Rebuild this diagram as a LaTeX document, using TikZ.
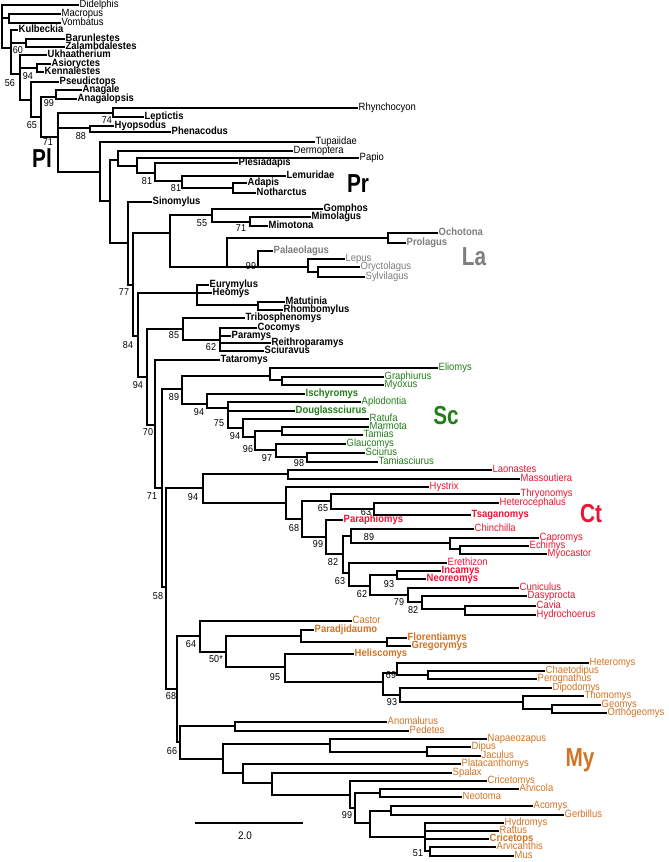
\documentclass[tikz,border=0pt]{standalone}
\usepackage{fontspec}
\setmainfont{Liberation Sans}
\newfontfamily\narrowfont{Liberation Sans}[FakeStretch=0.9]
\newfontfamily\cladefont{Liberation Sans}[FakeStretch=0.8]
\usepackage{tikz}
\definecolor{scgreen}{RGB}{35,125,25}
\definecolor{ctred}{RGB}{235,20,50}
\definecolor{myorange}{RGB}{210,115,35}
\definecolor{lagray}{RGB}{125,125,125}
\tikzstyle{branch} = [line width=1.8pt, line cap=rect, draw=black]
\tikzstyle{tip} = [anchor=west, inner xsep=1.5pt, inner ysep=0pt, text
height=7.5pt, text depth=2pt, font=\narrowfont\fontsize{10.5}{10.5}\selectfont]
\tikzstyle{fossil} = [tip, font=\narrowfont\fontsize{10.5}{10.5}\selectfont\bfseries]
\tikzstyle{bs} = [inner sep=0pt, font=\narrowfont\fontsize{10}{10}\selectfont]
\tikzstyle{clade} = [inner sep=0pt, font=\cladefont\fontsize{26}{26}\selectfont\bfseries]

\begin{document}
\begin{tikzpicture}[x=1pt, y=-1pt]
\useasboundingbox (0,0) rectangle (669,862);

% tips
\node(didelphis)[tip] at (78,5){Didelphis};
\node(macropus)[tip] at (60,14){Macropus};
\node(vombatus)[tip] at (60,23){Vombatus};
\node(kulbeckia)[fossil] at (17,30){Kulbeckia};
\node(barunlestes)[fossil] at (64,39){Barunlestes};
\node(zalambdalestes)[fossil] at (64,47){Zalambdalestes};
\node(ukhaatherium)[fossil] at (46,55){Ukhaatherium};
\node(asioryctes)[fossil] at (50,64){Asioryctes};
\node(kennalestes)[fossil] at (43,72){Kennalestes};
\node(pseudictops)[fossil] at (58,82){Pseudictops};
\node(anagale)[fossil] at (81,90){Anagale};
\node(anagalopsis)[fossil] at (76,99){Anagalopsis};
\node(rhynchocyon)[tip] at (357,108){Rhynchocyon};
\node(leptictis)[fossil] at (143,117){Leptictis};
\node(hyopsodus)[fossil] at (113,126){Hyopsodus};
\node(phenacodus)[fossil] at (170,132){Phenacodus};
\node(tupaiidae)[tip] at (314,142){Tupaiidae};
\node(dermoptera)[tip] at (292,151){Dermoptera};
\node(papio)[tip] at (358,158){Papio};
\node(plesiadapis)[fossil] at (237,163){Plesiadapis};
\node(lemuridae)[fossil] at (285,176){Lemuridae};
\node(adapis)[fossil] at (246,183){Adapis};
\node(notharctus)[fossil] at (255,193){Notharctus};
\node(sinomylus)[fossil] at (151,202){Sinomylus};
\node(gomphos)[fossil] at (322,209){Gomphos};
\node(mimolagus)[fossil] at (310,217){Mimolagus};
\node(mimotona)[fossil] at (267,226){Mimotona};
\node(ochotona)[fossil, lagray] at (437,233){Ochotona};
\node(prolagus)[fossil, lagray] at (405,243){Prolagus};
\node(palaeolagus)[fossil, lagray] at (272,251){Palaeolagus};
\node(lepus)[tip, lagray] at (344,259){Lepus};
\node(oryctolagus)[tip, lagray] at (359,267){Oryctolagus};
\node(sylvilagus)[tip, lagray] at (364,277){Sylvilagus};
\node(eurymylus)[fossil] at (208,285){Eurymylus};
\node(heomys)[fossil] at (211,293){Heomys};
\node(matutinia)[fossil] at (284,302){Matutinia};
\node(rhombomylus)[fossil] at (282,310){Rhombomylus};
\node(tribosphenomys)[fossil] at (244,318){Tribosphenomys};
\node(cocomys)[fossil] at (256,328){Cocomys};
\node(paramys)[fossil] at (230,336){Paramys};
\node(reithroparamys)[fossil] at (270,343){Reithroparamys};
\node(sciuravus)[fossil] at (263,351){Sciuravus};
\node(tataromys)[fossil] at (219,360){Tataromys};
\node(eliomys)[tip, scgreen] at (437,368){Eliomys};
\node(graphiurus)[tip, scgreen] at (383,377){Graphiurus};
\node(myoxus)[tip, scgreen] at (383,385){Myoxus};
\node(ischyromys)[fossil, scgreen] at (304,394){Ischyromys};
\node(aplodontia)[tip, scgreen] at (360,402){Aplodontia};
\node(douglassciurus)[fossil, scgreen] at (294,411){Douglassciurus};
\node(ratufa)[tip, scgreen] at (368,419){Ratufa};
\node(marmota)[tip, scgreen] at (368,427){Marmota};
\node(tamias)[tip, scgreen] at (362,435){Tamias};
\node(glaucomys)[tip, scgreen] at (345,444){Glaucomys};
\node(sciurus)[tip, scgreen] at (364,453){Sciurus};
\node(tamiasciurus)[tip, scgreen] at (377,462){Tamiasciurus};
\node(laonastes)[tip, ctred] at (491,470){Laonastes};
\node(massoutiera)[tip, ctred] at (519,479){Massoutiera};
\node(hystrix)[tip, ctred] at (428,487){Hystrix};
\node(thryonomys)[tip, ctred] at (519,494){Thryonomys};
\node(heterocephalus)[tip, ctred] at (498,503){Heterocephalus};
\node(tsaganomys)[fossil, ctred] at (470,515){Tsaganomys};
\node(paraphiomys)[fossil, ctred] at (342,520){Paraphiomys};
\node(chinchilla)[tip, ctred] at (473,529){Chinchilla};
\node(capromys)[tip, ctred] at (538,538){Capromys};
\node(echimys)[tip, ctred] at (528,546){Echimys};
\node(myocastor)[tip, ctred] at (546,554){Myocastor};
\node(erethizon)[tip, ctred] at (446,563){Erethizon};
\node(incamys)[fossil, ctred] at (440,571){Incamys};
\node(neoreomys)[fossil, ctred] at (425,579){Neoreomys};
\node(cuniculus)[tip, ctred] at (518,588){Cuniculus};
\node(dasyprocta)[tip, ctred] at (526,596){Dasyprocta};
\node(cavia)[tip, ctred] at (535,606){Cavia};
\node(hydrochoerus)[tip, ctred] at (535,615){Hydrochoerus};
\node(castor)[tip, myorange] at (351,621){Castor};
\node(paradjidaumo)[fossil, myorange] at (313,630){Paradjidaumo};
\node(florentiamys)[fossil, myorange] at (406,638){Florentiamys};
\node(gregorymys)[fossil, myorange] at (410,646){Gregorymys};
\node(heliscomys)[fossil, myorange] at (353,654){Heliscomys};
\node(heteromys)[tip, myorange] at (588,663){Heteromys};
\node(chaetodipus)[tip, myorange] at (544,671){Chaetodipus};
\node(perognathus)[tip, myorange] at (536,679){Perognathus};
\node(dipodomys)[tip, myorange] at (551,688){Dipodomys};
\node(thomomys)[tip, myorange] at (583,696){Thomomys};
\node(geomys)[tip, myorange] at (600,705){Geomys};
\node(orthogeomys)[tip, myorange] at (606,713){Orthogeomys};
\node(anomalurus)[tip, myorange] at (386,722){Anomalurus};
\node(pedetes)[tip, myorange] at (408,731){Pedetes};
\node(napaeozapus)[tip, myorange] at (486,739){Napaeozapus};
\node(dipus)[tip, myorange] at (470,747){Dipus};
\node(jaculus)[tip, myorange] at (480,756){Jaculus};
\node(platacanthomys)[tip, myorange] at (460,764){Platacanthomys};
\node(spalax)[tip, myorange] at (451,773){Spalax};
\node(cricetomys)[tip, myorange] at (486,781){Cricetomys};
\node(arvicola)[tip, myorange] at (518,789){Arvicola};
\node(neotoma)[tip, myorange] at (461,797){Neotoma};
\node(acomys)[tip, myorange] at (532,806){Acomys};
\node(gerbillus)[tip, myorange] at (563,815){Gerbillus};
\node(hydromys)[tip, myorange] at (503,823){Hydromys};
\node(rattus)[tip, myorange] at (498,831){Rattus};
\node(cricetops)[fossil, myorange] at (488,839){Cricetops};
\node(arvicanthis)[tip, myorange] at (495,847){Arvicanthis};
\node(mus)[tip, myorange] at (513,856){Mus};

% internal nodes
\coordinate(root) at (2,48);
\coordinate(mars) at (9,18);
\coordinate(n56) at (11,48);
\coordinate(n60) at (26,43);
\coordinate(nU) at (20,74);
\coordinate(n94a) at (37,68);
\coordinate(n65) at (31,100);
\coordinate(n71a) at (41,117);
\coordinate(n99a) at (56,97);
\coordinate(nB) at (58,137);
\coordinate(n74) at (113,113);
\coordinate(n88) at (90,128);
\coordinate(nE) at (100,172);
\coordinate(nF) at (110,201);
\coordinate(nG) at (118,160);
\coordinate(nH) at (137,166);
\coordinate(nI) at (155,173);
\coordinate(nJ) at (182,181);
\coordinate(nK) at (233,188);
\coordinate(nS) at (128,243);
\coordinate(nT) at (133,285);
\coordinate(nGl) at (170,233);
\coordinate(n55) at (212,215);
\coordinate(n71c) at (250,222);
\coordinate(nLago) at (227,267);
\coordinate(nOch) at (388,238);
\coordinate(n99c) at (258,267);
\coordinate(nLep) at (308,267);
\coordinate(nOry) at (318,272);
\coordinate(n94b) at (138,336);
\coordinate(nEur) at (197,293);
\coordinate(nMat) at (258,305);
\coordinate(n70) at (147,377);
\coordinate(n85) at (183,329);
\coordinate(n62) at (220,340);
\coordinate(n71b) at (155,425);
\coordinate(nX) at (162,488);
\coordinate(nY) at (166,587);
\coordinate(n89) at (182,389);
\coordinate(nGli) at (270,376);
\coordinate(nGra) at (282,380);
\coordinate(n94c) at (207,404);
\coordinate(n75) at (228,408);
\coordinate(n94d) at (243,428);
\coordinate(n96) at (255,437);
\coordinate(nMar) at (282,431);
\coordinate(n97) at (276,450);
\coordinate(n98) at (307,457);
\coordinate(n94e) at (203,488);
\coordinate(nLao) at (288,474);
\coordinate(nH68) at (286,503);
\coordinate(nP) at (302,519);
\coordinate(n65b) at (331,501);
\coordinate(n63) at (374,509);
\coordinate(n99b) at (326,537);
\coordinate(n82) at (343,554);
\coordinate(n89b) at (351,536);
\coordinate(nCap) at (450,543);
\coordinate(nEch) at (460,549);
\coordinate(n63b) at (349,573);
\coordinate(n62b) at (370,586);
\coordinate(n93) at (397,575);
\coordinate(n79) at (408,595);
\coordinate(n82b) at (422,602);
\coordinate(nCav) at (465,609);
\coordinate(nMy) at (177,689);
\coordinate(n64) at (200,636);
\coordinate(n50) at (226,652);
\coordinate(nPar) at (301,636);
\coordinate(nFlo) at (387,642);
\coordinate(n95) at (285,667);
\coordinate(nGeo) at (383,682);
\coordinate(n69) at (397,673);
\coordinate(nCha) at (428,675);
\coordinate(n93g) at (400,695);
\coordinate(nTho) at (523,702);
\coordinate(nGeom) at (552,709);
\coordinate(n66) at (180,742);
\coordinate(nAno) at (235,726);
\coordinate(nMyo) at (223,759);
\coordinate(nDip) at (330,744);
\coordinate(nJac) at (427,752);
\coordinate(nPla) at (243,773);
\coordinate(nSpa) at (272,783);
\coordinate(nMur) at (350,795);
\coordinate(nMur2) at (355,808);
\coordinate(nArv) at (380,793);
\coordinate(nAco) at (370,823);
\coordinate(nAc2) at (391,811);
\coordinate(nHyd) at (425,837);
\coordinate(n51) at (430,851);

% branches
\draw[branch](root) |- (didelphis) (root) |- (mars) (root) |- (n56);
\draw[branch](mars) |- (macropus) (mars) |- (vombatus);
\draw[branch](n56) |- (kulbeckia) (n56) |- (n60) (n56) |- (nU);
\draw[branch](n60) |- (barunlestes) (n60) |- (zalambdalestes);
\draw[branch](nU) |- (ukhaatherium) (nU) |- (n94a) (nU) |- (n65);
\draw[branch](n94a) |- (asioryctes) (n94a) |- (kennalestes);
\draw[branch](n65) |- (pseudictops) (n65) |- (n71a);
\draw[branch](n71a) |- (n99a) (n71a) |- (nB);
\draw[branch](n99a) |- (anagale) (n99a) |- (anagalopsis);
\draw[branch](nB) |- (n74) (nB) |- (n88) (nB) |- (nE);
\draw[branch](n74) |- (rhynchocyon) (n74) |- (leptictis);
\draw[branch](n88) |- (hyopsodus) (n88) |- (phenacodus);
\draw[branch](nE) |- (tupaiidae) (nE) |- (nF);
\draw[branch](nF) |- (nG) (nF) |- (nS);
\draw[branch](nG) |- (dermoptera) (nG) |- (nH);
\draw[branch](nH) |- (papio) (nH) |- (nI);
\draw[branch](nI) |- (plesiadapis) (nI) |- (nJ);
\draw[branch](nJ) |- (lemuridae) (nJ) |- (nK);
\draw[branch](nK) |- (adapis) (nK) |- (notharctus);
\draw[branch](nS) |- (sinomylus) (nS) |- (nT);
\draw[branch](nT) |- (nGl) (nT) |- (n94b);
\draw[branch](nGl) |- (n55) (nGl) |- (nLago);
\draw[branch](n55) |- (gomphos) (n55) |- (n71c);
\draw[branch](n71c) |- (mimolagus) (n71c) |- (mimotona);
\draw[branch](nLago) |- (nOch) (nLago) |- (n99c);
\draw[branch](nOch) |- (ochotona) (nOch) |- (prolagus);
\draw[branch](n99c) |- (palaeolagus) (n99c) |- (nLep);
\draw[branch](nLep) |- (lepus) (nLep) |- (nOry);
\draw[branch](nOry) |- (oryctolagus) (nOry) |- (sylvilagus);
\draw[branch](n94b) |- (nEur) (n94b) |- (n70);
\draw[branch](nEur) |- (eurymylus) (nEur) |- (heomys) (nEur) |- (nMat);
\draw[branch](nMat) |- (matutinia) (nMat) |- (rhombomylus);
\draw[branch](n70) |- (n85) (n70) |- (n71b);
\draw[branch](n85) |- (tribosphenomys) (n85) |- (n62);
\draw[branch](n62) |- (cocomys) (n62) |- (paramys) (n62) |- (reithroparamys) (n62) |- (sciuravus);
\draw[branch](n71b) |- (tataromys) (n71b) |- (nX);
\draw[branch](nX) |- (n89) (nX) |- (nY);
\draw[branch](nY) |- (n94e) (nY) |- (nMy);
\draw[branch](n89) |- (nGli) (n89) |- (n94c);
\draw[branch](nGli) |- (eliomys) (nGli) |- (nGra);
\draw[branch](nGra) |- (graphiurus) (nGra) |- (myoxus);
\draw[branch](n94c) |- (ischyromys) (n94c) |- (n75);
\draw[branch](n75) |- (aplodontia) (n75) |- (douglassciurus) (n75) |- (n94d);
\draw[branch](n94d) |- (ratufa) (n94d) |- (n96);
\draw[branch](n96) |- (nMar) (n96) |- (n97);
\draw[branch](nMar) |- (marmota) (nMar) |- (tamias);
\draw[branch](n97) |- (glaucomys) (n97) |- (n98);
\draw[branch](n98) |- (sciurus) (n98) |- (tamiasciurus);
\draw[branch](n94e) |- (nLao) (n94e) |- (nH68);
\draw[branch](nLao) |- (laonastes) (nLao) |- (massoutiera);
\draw[branch](nH68) |- (hystrix) (nH68) |- (nP);
\draw[branch](nP) |- (n65b) (nP) |- (n99b);
\draw[branch](n65b) |- (thryonomys) (n65b) |- (n63);
\draw[branch](n63) |- (heterocephalus) (n63) |- (tsaganomys);
\draw[branch](n99b) |- (paraphiomys) (n99b) |- (n82);
\draw[branch](n82) |- (n89b) (n82) |- (n63b);
\draw[branch](n89b) |- (chinchilla) (n89b) |- (nCap);
\draw[branch](nCap) |- (capromys) (nCap) |- (nEch);
\draw[branch](nEch) |- (echimys) (nEch) |- (myocastor);
\draw[branch](n63b) |- (erethizon) (n63b) |- (n62b);
\draw[branch](n62b) |- (n93) (n62b) |- (n79);
\draw[branch](n93) |- (incamys) (n93) |- (neoreomys);
\draw[branch](n79) |- (cuniculus) (n79) |- (n82b);
\draw[branch](n82b) |- (dasyprocta) (n82b) |- (nCav);
\draw[branch](nCav) |- (cavia) (nCav) |- (hydrochoerus);
\draw[branch](nMy) |- (n64) (nMy) |- (n66);
\draw[branch](n64) |- (castor) (n64) |- (n50);
\draw[branch](n50) |- (nPar) (n50) |- (n95);
\draw[branch](nPar) |- (paradjidaumo) (nPar) |- (nFlo);
\draw[branch](nFlo) |- (florentiamys) (nFlo) |- (gregorymys);
\draw[branch](n95) |- (heliscomys) (n95) |- (nGeo);
\draw[branch](nGeo) |- (n69) (nGeo) |- (n93g);
\draw[branch](n69) |- (heteromys) (n69) |- (nCha);
\draw[branch](nCha) |- (chaetodipus) (nCha) |- (perognathus);
\draw[branch](n93g) |- (dipodomys) (n93g) |- (nTho);
\draw[branch](nTho) |- (thomomys) (nTho) |- (nGeom);
\draw[branch](nGeom) |- (geomys) (nGeom) |- (orthogeomys);
\draw[branch](n66) |- (nAno) (n66) |- (nMyo);
\draw[branch](nAno) |- (anomalurus) (nAno) |- (pedetes);
\draw[branch](nMyo) |- (nDip) (nMyo) |- (nPla);
\draw[branch](nDip) |- (napaeozapus) (nDip) |- (nJac);
\draw[branch](nJac) |- (dipus) (nJac) |- (jaculus);
\draw[branch](nPla) |- (platacanthomys) (nPla) |- (nSpa);
\draw[branch](nSpa) |- (spalax) (nSpa) |- (nMur);
\draw[branch](nMur) |- (cricetomys) (nMur) |- (nMur2);
\draw[branch](nMur2) |- (nArv) (nMur2) |- (nAco);
\draw[branch](nArv) |- (arvicola) (nArv) |- (neotoma);
\draw[branch](nAco) |- (nAc2) (nAco) |- (nHyd);
\draw[branch](nAc2) |- (acomys) (nAc2) |- (gerbillus);
\draw[branch](nHyd) |- (hydromys) (nHyd) |- (rattus) (nHyd) |- (cricetops) (nHyd) |- (n51);
\draw[branch](n51) |- (arvicanthis) (n51) |- (mus);

% support values
\node(l60)[bs] at (18,50){60};
\node(l56)[bs] at (10,83){56};
\node(l94a)[bs] at (28,76){94};
\node(l99a)[bs] at (49,103){99};
\node(l65)[bs] at (32,125){65};
\node(l71a)[bs] at (48,142){71};
\node(l74)[bs] at (107,120){74};
\node(l88)[bs] at (81,136){88};
\node(l81a)[bs] at (147,181){81};
\node(l81b)[bs] at (176,188){81};
\node(l55)[bs] at (202,223){55};
\node(l71c)[bs] at (241,228){71};
\node(l99c)[bs] at (251,266){99};
\node(l77)[bs] at (124,292){77};
\node(l84)[bs] at (128,345){84};
\node(l85)[bs] at (174,335){85};
\node(l62)[bs] at (211,347){62};
\node(l94b)[bs] at (138,385){94};
\node(l70)[bs] at (148,432){70};
\node(l89)[bs] at (174,397){89};
\node(l94c)[bs] at (199,412){94};
\node(l75)[bs] at (219,423){75};
\node(l94d)[bs] at (235,436){94};
\node(l96)[bs] at (248,449){96};
\node(l97)[bs] at (267,458){97};
\node(l98)[bs] at (299,463){98};
\node(l71b)[bs] at (152,496){71};
\node(l94e)[bs] at (193,497){94};
\node(l65b)[bs] at (323,508){65};
\node(l63)[bs] at (366,512){63};
\node(l68b)[bs] at (294,528){68};
\node(l99b)[bs] at (318,544){99};
\node(l89b)[bs] at (369,537){89};
\node(l82)[bs] at (333,562){82};
\node(l63b)[bs] at (340,581){63};
\node(l93)[bs] at (389,584){93};
\node(l62b)[bs] at (362,594){62};
\node(l79)[bs] at (399,602){79};
\node(l82b)[bs] at (413,610){82};
\node(l58)[bs] at (158,596){58};
\node(l64)[bs] at (191,644){64};
\node(l50)[bs] at (216,659){50*};
\node(l95)[bs] at (275,677){95};
\node(l69)[bs] at (391,675){69};
\node(l93g)[bs] at (392,702){93};
\node(l68)[bs] at (171,696){68};
\node(l66)[bs] at (172,751){66};
\node(l99d)[bs] at (347,815){99};
\node(l51)[bs] at (418,853){51};

% clade labels
\node(pl)[clade] at (42,158){Pl};
\node(pr)[clade] at (358,184){Pr};
\node(la)[clade, lagray] at (474,257){La};
\node(sc)[clade, scgreen] at (446,416){Sc};
\node(ct)[clade, ctred] at (591,514){Ct};
\node(my)[clade, myorange] at (580,760){My};

% scale bar
\coordinate(bar1) at (195,823);
\coordinate(bar2) at (303,823);
\draw[branch, line cap=butt](bar1) -- (bar2);
\node(barlabel)[bs, font=\narrowfont\fontsize{11}{11}\selectfont] at (245,836){2.0};

\end{tikzpicture}
\end{document}
